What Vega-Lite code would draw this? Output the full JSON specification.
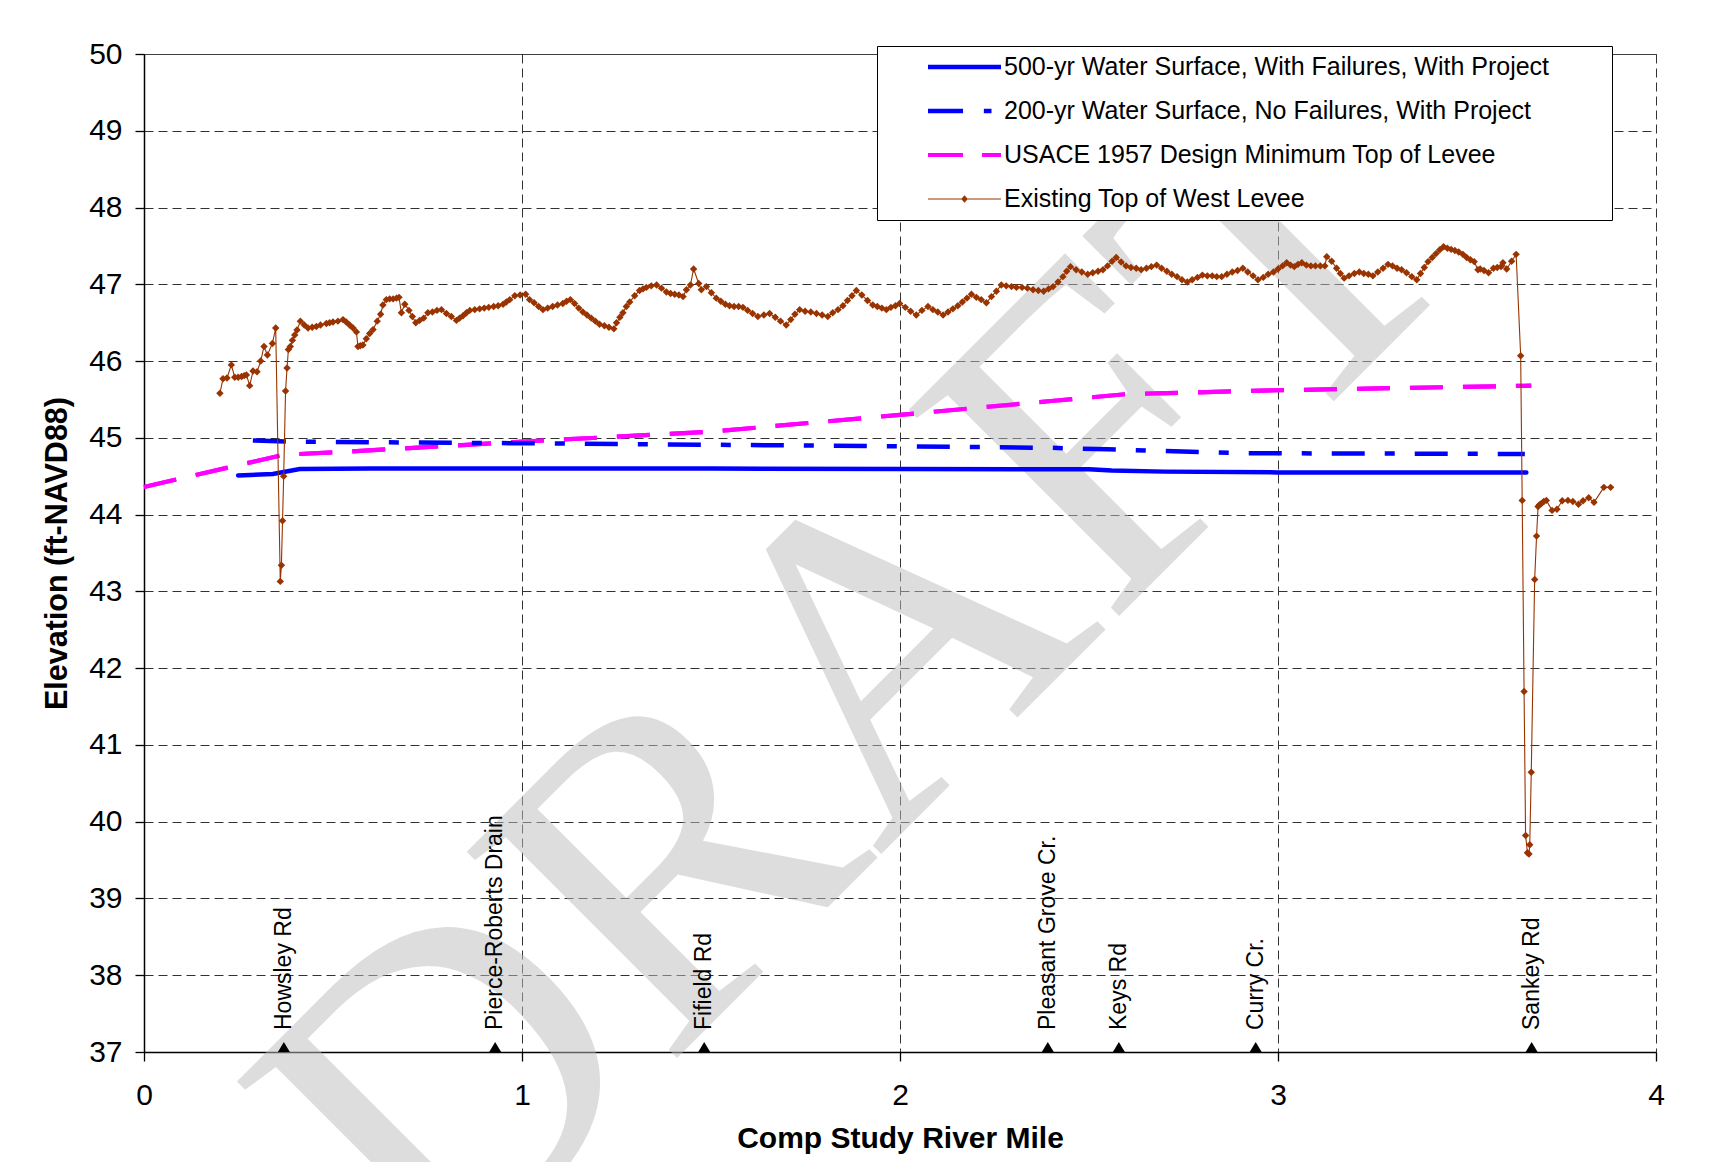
{
  "$schema": "https://vega.github.io/schema/vega-lite/v6.json",
  "width": 1512,
  "height": 998,
  "autosize": "none",
  "padding": {"left": 144, "top": 54, "right": 55, "bottom": 110},
  "background": "white",
  "config": {
    "view": {"stroke": null},
    "font": "Liberation Sans",
    "axis": {"labelFont": "Liberation Sans", "titleFont": "Liberation Sans", "labelColor": "black", "titleColor": "black"}
  },
  "datasets": {
    "watermark": [{"label": "DRAFT", "mile": 1.9, "elev": 41.82}],
    "usace": [
      {"mile": 0, "elev": 44.36}, {"mile": 0.37, "elev": 44.78}, {"mile": 0.5, "elev": 44.81}, {"mile": 1.0, "elev": 44.95},
      {"mile": 1.5, "elev": 45.08}, {"mile": 2.0, "elev": 45.30}, {"mile": 2.4, "elev": 45.48}, {"mile": 2.6, "elev": 45.57},
      {"mile": 3.0, "elev": 45.62}, {"mile": 3.67, "elev": 45.68}
    ],
    "water200": [
      {"mile": 0.288, "elev": 44.965}, {"mile": 0.4, "elev": 44.95}, {"mile": 1.0, "elev": 44.93}, {"mile": 1.5, "elev": 44.91},
      {"mile": 2.0, "elev": 44.89}, {"mile": 2.4, "elev": 44.87}, {"mile": 2.55, "elev": 44.85}, {"mile": 2.9, "elev": 44.80},
      {"mile": 3.653, "elev": 44.79}
    ],
    "water500": [
      {"mile": 0.249, "elev": 44.51}, {"mile": 0.341, "elev": 44.53}, {"mile": 0.412, "elev": 44.595}, {"mile": 0.6, "elev": 44.60},
      {"mile": 1.0, "elev": 44.60}, {"mile": 1.5, "elev": 44.60}, {"mile": 2.0, "elev": 44.595}, {"mile": 2.5, "elev": 44.59},
      {"mile": 2.56, "elev": 44.575}, {"mile": 2.7, "elev": 44.56}, {"mile": 3.0, "elev": 44.55}, {"mile": 3.657, "elev": 44.55}
    ],
    "levee": [
      {"mile":0.2008,"elev":45.58},{"mile":0.209,"elev":45.77},{"mile":0.2196,"elev":45.78},{"mile":0.231,"elev":45.95},{"mile":0.240,"elev":45.79},{"mile":0.249,"elev":45.79},{"mile":0.258,"elev":45.80},{"mile":0.265,"elev":45.81},{"mile":0.271,"elev":45.82},{"mile":0.2796,"elev":45.68},{"mile":0.2884,"elev":45.87},{"mile":0.299,"elev":45.86},{"mile":0.3087,"elev":46.00},{"mile":0.3175,"elev":46.19},{"mile":0.3264,"elev":46.08},{"mile":0.3397,"elev":46.23},{"mile":0.3484,"elev":46.43},{"mile":0.3605,"elev":43.13},{"mile":0.3635,"elev":43.34},{"mile":0.3665,"elev":43.92},{"mile":0.3695,"elev":44.50},{"mile":0.3745,"elev":45.61},{"mile":0.3784,"elev":45.91},{"mile":0.382,"elev":46.15},{"mile":0.387,"elev":46.19},{"mile":0.3926,"elev":46.27},{"mile":0.3987,"elev":46.34},{"mile":0.4048,"elev":46.405},{"mile":0.4137,"elev":46.52},{"mile":0.424,"elev":46.47},{"mile":0.434,"elev":46.43},{"mile":0.445,"elev":46.44},{"mile":0.456,"elev":46.45},{"mile":0.467,"elev":46.47},{"mile":0.4825,"elev":46.49},{"mile":0.491,"elev":46.50},{"mile":0.5,"elev":46.51},{"mile":0.513,"elev":46.52},{"mile":0.5265,"elev":46.54},{"mile":0.535,"elev":46.51},{"mile":0.544,"elev":46.47},{"mile":0.553,"elev":46.43},{"mile":0.562,"elev":46.38},{"mile":0.566,"elev":46.19},{"mile":0.572,"elev":46.20},{"mile":0.579,"elev":46.21},{"mile":0.588,"elev":46.29},{"mile":0.597,"elev":46.36},{"mile":0.606,"elev":46.41},{"mile":0.617,"elev":46.52},{"mile":0.626,"elev":46.61},{"mile":0.632,"elev":46.73},{"mile":0.641,"elev":46.80},{"mile":0.650,"elev":46.81},{"mile":0.659,"elev":46.81},{"mile":0.668,"elev":46.82},{"mile":0.6746,"elev":46.83},{"mile":0.681,"elev":46.63},{"mile":0.69,"elev":46.74},{"mile":0.701,"elev":46.66},{"mile":0.710,"elev":46.58},{"mile":0.719,"elev":46.50},{"mile":0.729,"elev":46.53},{"mile":0.740,"elev":46.56},{"mile":0.751,"elev":46.63},{"mile":0.763,"elev":46.64},{"mile":0.775,"elev":46.66},{"mile":0.787,"elev":46.67},{"mile":0.800,"elev":46.62},{"mile":0.813,"elev":46.58},{"mile":0.8265,"elev":46.53},{"mile":0.835,"elev":46.56},{"mile":0.844,"elev":46.59},{"mile":0.853,"elev":46.63},{"mile":0.862,"elev":46.66},{"mile":0.875,"elev":46.67},{"mile":0.888,"elev":46.68},{"mile":0.900,"elev":46.69},{"mile":0.912,"elev":46.70},{"mile":0.925,"elev":46.71},{"mile":0.937,"elev":46.72},{"mile":0.950,"elev":46.74},{"mile":0.9585,"elev":46.77},{"mile":0.9675,"elev":46.80},{"mile":0.981,"elev":46.85},{"mile":0.995,"elev":46.86},{"mile":1.0097,"elev":46.87},{"mile":1.020,"elev":46.80},{"mile":1.032,"elev":46.76},{"mile":1.044,"elev":46.71},{"mile":1.0555,"elev":46.67},{"mile":1.068,"elev":46.69},{"mile":1.081,"elev":46.71},{"mile":1.094,"elev":46.73},{"mile":1.108,"elev":46.75},{"mile":1.118,"elev":46.78},{"mile":1.128,"elev":46.80},{"mile":1.139,"elev":46.75},{"mile":1.150,"elev":46.69},{"mile":1.161,"elev":46.64},{"mile":1.172,"elev":46.60},{"mile":1.183,"elev":46.56},{"mile":1.194,"elev":46.52},{"mile":1.205,"elev":46.48},{"mile":1.218,"elev":46.46},{"mile":1.230,"elev":46.44},{"mile":1.243,"elev":46.42},{"mile":1.250,"elev":46.50},{"mile":1.259,"elev":46.57},{"mile":1.267,"elev":46.63},{"mile":1.276,"elev":46.71},{"mile":1.285,"elev":46.77},{"mile":1.298,"elev":46.85},{"mile":1.311,"elev":46.92},{"mile":1.320,"elev":46.94},{"mile":1.329,"elev":46.96},{"mile":1.342,"elev":46.98},{"mile":1.356,"elev":46.99},{"mile":1.369,"elev":46.95},{"mile":1.382,"elev":46.90},{"mile":1.393,"elev":46.88},{"mile":1.404,"elev":46.87},{"mile":1.415,"elev":46.86},{"mile":1.426,"elev":46.84},{"mile":1.435,"elev":46.93},{"mile":1.4455,"elev":46.99},{"mile":1.454,"elev":47.20},{"mile":1.4675,"elev":47.01},{"mile":1.4745,"elev":46.93},{"mile":1.488,"elev":46.97},{"mile":1.501,"elev":46.89},{"mile":1.514,"elev":46.82},{"mile":1.526,"elev":46.78},{"mile":1.538,"elev":46.74},{"mile":1.549,"elev":46.72},{"mile":1.561,"elev":46.71},{"mile":1.573,"elev":46.71},{"mile":1.5845,"elev":46.70},{"mile":1.597,"elev":46.66},{"mile":1.610,"elev":46.62},{"mile":1.624,"elev":46.58},{"mile":1.640,"elev":46.60},{"mile":1.655,"elev":46.62},{"mile":1.670,"elev":46.57},{"mile":1.684,"elev":46.52},{"mile":1.699,"elev":46.47},{"mile":1.711,"elev":46.54},{"mile":1.722,"elev":46.61},{"mile":1.7345,"elev":46.67},{"mile":1.749,"elev":46.65},{"mile":1.764,"elev":46.64},{"mile":1.779,"elev":46.62},{"mile":1.794,"elev":46.60},{"mile":1.809,"elev":46.58},{"mile":1.822,"elev":46.63},{"mile":1.836,"elev":46.67},{"mile":1.849,"elev":46.72},{"mile":1.861,"elev":46.79},{"mile":1.873,"elev":46.85},{"mile":1.8845,"elev":46.92},{"mile":1.899,"elev":46.86},{"mile":1.914,"elev":46.79},{"mile":1.928,"elev":46.73},{"mile":1.940,"elev":46.71},{"mile":1.952,"elev":46.69},{"mile":1.964,"elev":46.67},{"mile":1.976,"elev":46.70},{"mile":1.988,"elev":46.72},{"mile":1.999,"elev":46.75},{"mile":2.014,"elev":46.70},{"mile":2.028,"elev":46.65},{"mile":2.043,"elev":46.60},{"mile":2.058,"elev":46.66},{"mile":2.074,"elev":46.71},{"mile":2.087,"elev":46.67},{"mile":2.100,"elev":46.64},{"mile":2.114,"elev":46.60},{"mile":2.127,"elev":46.64},{"mile":2.140,"elev":46.68},{"mile":2.153,"elev":46.72},{"mile":2.165,"elev":46.77},{"mile":2.177,"elev":46.82},{"mile":2.189,"elev":46.87},{"mile":2.202,"elev":46.83},{"mile":2.215,"elev":46.80},{"mile":2.2285,"elev":46.76},{"mile":2.242,"elev":46.84},{"mile":2.255,"elev":46.91},{"mile":2.268,"elev":46.99},{"mile":2.281,"elev":46.98},{"mile":2.295,"elev":46.97},{"mile":2.308,"elev":46.96},{"mile":2.323,"elev":46.96},{"mile":2.337,"elev":46.95},{"mile":2.352,"elev":46.93},{"mile":2.366,"elev":46.92},{"mile":2.380,"elev":46.91},{"mile":2.393,"elev":46.94},{"mile":2.405,"elev":46.97},{"mile":2.418,"elev":47.03},{"mile":2.431,"elev":47.10},{"mile":2.441,"elev":47.17},{"mile":2.451,"elev":47.23},{"mile":2.466,"elev":47.19},{"mile":2.481,"elev":47.16},{"mile":2.4966,"elev":47.13},{"mile":2.510,"elev":47.15},{"mile":2.524,"elev":47.17},{"mile":2.537,"elev":47.19},{"mile":2.549,"elev":47.24},{"mile":2.561,"elev":47.30},{"mile":2.572,"elev":47.35},{"mile":2.585,"elev":47.29},{"mile":2.598,"elev":47.24},{"mile":2.611,"elev":47.22},{"mile":2.625,"elev":47.21},{"mile":2.638,"elev":47.19},{"mile":2.652,"elev":47.21},{"mile":2.665,"elev":47.23},{"mile":2.679,"elev":47.25},{"mile":2.692,"elev":47.21},{"mile":2.706,"elev":47.17},{"mile":2.719,"elev":47.13},{"mile":2.733,"elev":47.10},{"mile":2.746,"elev":47.06},{"mile":2.760,"elev":47.03},{"mile":2.773,"elev":47.06},{"mile":2.787,"elev":47.09},{"mile":2.800,"elev":47.12},{"mile":2.813,"elev":47.11},{"mile":2.826,"elev":47.11},{"mile":2.838,"elev":47.10},{"mile":2.851,"elev":47.10},{"mile":2.865,"elev":47.13},{"mile":2.879,"elev":47.16},{"mile":2.893,"elev":47.18},{"mile":2.907,"elev":47.21},{"mile":2.920,"elev":47.16},{"mile":2.934,"elev":47.11},{"mile":2.947,"elev":47.06},{"mile":2.961,"elev":47.09},{"mile":2.974,"elev":47.13},{"mile":2.988,"elev":47.16},{"mile":3.000,"elev":47.20},{"mile":3.012,"elev":47.24},{"mile":3.023,"elev":47.28},{"mile":3.033,"elev":47.25},{"mile":3.043,"elev":47.23},{"mile":3.053,"elev":47.26},{"mile":3.063,"elev":47.28},{"mile":3.075,"elev":47.25},{"mile":3.087,"elev":47.24},{"mile":3.099,"elev":47.24},{"mile":3.112,"elev":47.24},{"mile":3.124,"elev":47.24},{"mile":3.129,"elev":47.36},{"mile":3.142,"elev":47.30},{"mile":3.155,"elev":47.21},{"mile":3.165,"elev":47.14},{"mile":3.175,"elev":47.08},{"mile":3.188,"elev":47.11},{"mile":3.202,"elev":47.14},{"mile":3.215,"elev":47.16},{"mile":3.227,"elev":47.14},{"mile":3.239,"elev":47.13},{"mile":3.251,"elev":47.11},{"mile":3.264,"elev":47.16},{"mile":3.278,"elev":47.21},{"mile":3.291,"elev":47.26},{"mile":3.303,"elev":47.24},{"mile":3.315,"elev":47.21},{"mile":3.327,"elev":47.19},{"mile":3.340,"elev":47.15},{"mile":3.354,"elev":47.10},{"mile":3.367,"elev":47.06},{"mile":3.377,"elev":47.14},{"mile":3.387,"elev":47.22},{"mile":3.397,"elev":47.295},{"mile":3.408,"elev":47.35},{"mile":3.418,"elev":47.40},{"mile":3.428,"elev":47.45},{"mile":3.438,"elev":47.49},{"mile":3.448,"elev":47.47},{"mile":3.458,"elev":47.455},{"mile":3.468,"elev":47.44},{"mile":3.478,"elev":47.42},{"mile":3.489,"elev":47.39},{"mile":3.499,"elev":47.35},{"mile":3.509,"elev":47.32},{"mile":3.519,"elev":47.295},{"mile":3.529,"elev":47.19},{"mile":3.535,"elev":47.20},{"mile":3.545,"elev":47.18},{"mile":3.557,"elev":47.15},{"mile":3.570,"elev":47.21},{"mile":3.580,"elev":47.22},{"mile":3.590,"elev":47.23},{"mile":3.595,"elev":47.28},{"mile":3.605,"elev":47.20},{"mile":3.618,"elev":47.30},{"mile":3.630,"elev":47.39},{"mile":3.642,"elev":46.07},{"mile":3.646,"elev":44.185},{"mile":3.651,"elev":41.695},{"mile":3.655,"elev":39.82},{"mile":3.660,"elev":39.595},{"mile":3.664,"elev":39.58},{"mile":3.666,"elev":39.70},{"mile":3.670,"elev":40.645},{"mile":3.679,"elev":43.155},{"mile":3.684,"elev":43.72},{"mile":3.688,"elev":44.105},{"mile":3.692,"elev":44.13},{"mile":3.697,"elev":44.145},{"mile":3.703,"elev":44.17},{"mile":3.710,"elev":44.185},{"mile":3.725,"elev":44.055},{"mile":3.738,"elev":44.07},{"mile":3.752,"elev":44.18},{"mile":3.767,"elev":44.185},{"mile":3.780,"elev":44.17},{"mile":3.795,"elev":44.135},{"mile":3.807,"elev":44.18},{"mile":3.822,"elev":44.22},{"mile":3.836,"elev":44.16},{"mile":3.862,"elev":44.355},{"mile":3.880,"elev":44.355}
    ],
    "landmarks": [
      {"name": "Howsley Rd", "mile": 0.370},
      {"name": "Pierce-Roberts Drain", "mile": 0.929},
      {"name": "Fifield Rd", "mile": 1.482},
      {"name": "Pleasant Grove Cr.", "mile": 2.391},
      {"name": "Keys Rd", "mile": 2.579},
      {"name": "Curry Cr.", "mile": 2.941},
      {"name": "Sankey Rd", "mile": 3.671}
    ],
    "keys": [
      {"series": "500-yr Water Surface, With Failures, With Project"},
      {"series": "200-yr Water Surface, No Failures, With Project"},
      {"series": "USACE 1957 Design Minimum Top of Levee"},
      {"series": "Existing Top of West Levee"}
    ]
  },
  "layer": [
    {
      "data": {"name": "usace"},
      "mark": {"type": "line", "color": "#ff00ff", "strokeWidth": 4.2, "strokeDash": [33, 20], "strokeCap": "butt"},
      "encoding": {
        "x": {
          "field": "mile", "type": "quantitative",
          "scale": {"domain": [0, 4], "nice": false, "zero": false},
          "axis": {
            "values": [0, 0.5, 1, 1.5, 2, 2.5, 3, 3.5, 4],
            "format": "d",
            "labelExpr": "datum.value % 1 === 0 ? datum.label : ''",
            "labelFlush": false, "labelOverlap": false,
            "labelFontSize": 30, "labelPadding": 19,
            "grid": true, "gridDash": [9, 5], "gridColor": "#333333", "gridWidth": 1,
            "tickOpacity": {"condition": {"test": "datum.value % 1 !== 0", "value": 0}, "value": 1},
            "tickSize": 9, "tickColor": "black", "tickWidth": 1.3,
            "domainColor": "black", "domainWidth": 1.5,
            "title": "Comp Study River Mile", "titleFontSize": 30, "titleFontWeight": "bold",
            "titleY": 95, "titleBaseline": "alphabetic"
          }
        },
        "y": {
          "field": "elev", "type": "quantitative",
          "scale": {"domain": [37, 50], "nice": false, "zero": false},
          "axis": {
            "values": [37, 38, 39, 40, 41, 42, 43, 44, 45, 46, 47, 48, 49, 50],
            "format": "d",
            "labelFlush": false, "labelOverlap": false,
            "labelFontSize": 30, "labelPadding": 13,
            "grid": true,
            "gridDash": {"condition": {"test": "datum.value === 50", "value": [1, 0]}, "value": [9, 5]},
            "gridColor": {"condition": {"test": "datum.value === 50", "value": "black"}, "value": "#333333"},
            "gridWidth": 1,
            "tickSize": 9, "tickColor": "black", "tickWidth": 1.3,
            "domainColor": "black", "domainWidth": 1.5,
            "title": "Elevation (ft-NAVD88)", "titleFontSize": 30.5, "titleFontWeight": "bold",
            "titleAngle": 270, "titleX": -78, "titleY": 499, "titleAlign": "center", "titleBaseline": "alphabetic"
          }
        }
      }
    },
    {
      "data": {"name": "watermark"},
      "mark": {"type": "text", "font": "Liberation Serif", "fontSize": 450, "angle": 315, "align": "center", "baseline": "middle", "color": "#bdbdbd", "opacity": 0.5},
      "encoding": {
        "x": {"field": "mile", "type": "quantitative", "scale": {"domain": [0, 4], "nice": false, "zero": false}},
        "y": {"field": "elev", "type": "quantitative", "scale": {"domain": [37, 50], "nice": false, "zero": false}},
        "text": {"field": "label"}
      }
    },
    {
      "data": {"name": "usace"},
      "mark": {"type": "line", "color": "#ff00ff", "strokeWidth": 4.2, "strokeDash": [33, 20], "strokeCap": "butt"},
      "encoding": {
        "x": {"field": "mile", "type": "quantitative", "scale": {"domain": [0, 4], "nice": false, "zero": false}},
        "y": {"field": "elev", "type": "quantitative", "scale": {"domain": [37, 50], "nice": false, "zero": false}}
      }
    },
    {
      "data": {"name": "water200"},
      "mark": {"type": "line", "color": "#0000ff", "strokeWidth": 4.5, "strokeDash": [33, 20, 10, 20], "strokeCap": "butt"},
      "encoding": {
        "x": {"field": "mile", "type": "quantitative", "scale": {"domain": [0, 4], "nice": false, "zero": false}},
        "y": {"field": "elev", "type": "quantitative", "scale": {"domain": [37, 50], "nice": false, "zero": false}}
      }
    },
    {
      "data": {"name": "water500"},
      "mark": {"type": "line", "color": "#0000ff", "strokeWidth": 4.5, "strokeCap": "round"},
      "encoding": {
        "x": {"field": "mile", "type": "quantitative", "scale": {"domain": [0, 4], "nice": false, "zero": false}},
        "y": {"field": "elev", "type": "quantitative", "scale": {"domain": [37, 50], "nice": false, "zero": false}}
      }
    },
    {
      "data": {"name": "levee"},
      "mark": {"type": "line", "color": "#993300", "strokeWidth": 1.1},
      "encoding": {
        "x": {"field": "mile", "type": "quantitative", "scale": {"domain": [0, 4], "nice": false, "zero": false}},
        "y": {"field": "elev", "type": "quantitative", "scale": {"domain": [37, 50], "nice": false, "zero": false}}
      }
    },
    {
      "data": {"name": "levee"},
      "mark": {"type": "point", "shape": "diamond", "size": 55, "filled": true, "color": "#993300", "opacity": 1, "strokeWidth": 0},
      "encoding": {
        "x": {"field": "mile", "type": "quantitative", "scale": {"domain": [0, 4], "nice": false, "zero": false}},
        "y": {"field": "elev", "type": "quantitative", "scale": {"domain": [37, 50], "nice": false, "zero": false}}
      }
    },
    {
      "data": {"name": "landmarks"},
      "mark": {"type": "point", "shape": "M0,-1L0.6,0L-0.6,0Z", "size": 400, "filled": true, "color": "black", "opacity": 1, "strokeWidth": 0},
      "encoding": {
        "x": {"field": "mile", "type": "quantitative", "scale": {"domain": [0, 4], "nice": false, "zero": false}},
        "y": {"datum": 37, "type": "quantitative", "scale": {"domain": [37, 50], "nice": false, "zero": false}}
      }
    },
    {
      "data": {"name": "landmarks"},
      "mark": {"type": "text", "angle": 270, "align": "left", "baseline": "middle", "dx": 22, "fontSize": 23, "font": "Liberation Sans", "color": "black"},
      "encoding": {
        "x": {"field": "mile", "type": "quantitative", "scale": {"domain": [0, 4], "nice": false, "zero": false}},
        "y": {"datum": 37, "type": "quantitative", "scale": {"domain": [37, 50], "nice": false, "zero": false}},
        "text": {"field": "name"}
      }
    },
    {
      "data": {"name": "keys"},
      "mark": {"type": "point", "filled": true, "opacity": 0},
      "encoding": {
        "color": {
          "field": "series", "type": "nominal",
          "scale": {
            "domain": ["500-yr Water Surface, With Failures, With Project", "200-yr Water Surface, No Failures, With Project", "USACE 1957 Design Minimum Top of Levee", "Existing Top of West Levee"],
            "range": ["#0000ff", "#0000ff", "#ff00ff", "#993300"]
          },
          "legend": {
            "title": null, "orient": "none", "legendX": 733, "legendY": -8, "direction": "vertical",
            "fillColor": "white", "strokeColor": "black", "padding": 8, "cornerRadius": 0,
            "symbolSize": 5329, "symbolStrokeWidth": 0, "symbolOpacity": 1, "symbolOffset": 43, "labelOffset": 3,
            "labelFontSize": 25, "labelFont": "Liberation Sans", "labelColor": "black", "labelLimit": 2000,
            "rowPadding": 18, "clipHeight": 26,
            "labelExpr": "datum.label + '\u2800\u2800\u2800'"
          }
        },
        "shape": {
          "field": "series", "type": "nominal",
          "scale": {
            "domain": ["500-yr Water Surface, With Failures, With Project", "200-yr Water Surface, No Failures, With Project", "USACE 1957 Design Minimum Top of Levee", "Existing Top of West Levee"],
            "range": [
              "M-1,-0.06H1V0.06H-1Z",
              "M-1,-0.06H-0.04V0.06H-1Z M0.53,-0.06H0.74V0.06H0.53Z",
              "M-1,-0.055H-0.04V0.055H-1Z M0.48,-0.055H1V0.055H0.48Z",
              "M-1,-0.014H1V0.014H-1Z M0,-0.1L0.09,0L0,0.1L-0.09,0Z"
            ]
          },
          "legend": {
            "title": null, "orient": "none", "legendX": 733, "legendY": -8, "direction": "vertical",
            "fillColor": "white", "strokeColor": "black", "padding": 8, "cornerRadius": 0,
            "symbolSize": 5329, "symbolStrokeWidth": 0, "symbolOpacity": 1, "symbolOffset": 43, "labelOffset": 3,
            "labelFontSize": 25, "labelFont": "Liberation Sans", "labelColor": "black", "labelLimit": 2000,
            "rowPadding": 18, "clipHeight": 26,
            "labelExpr": "datum.label + '\u2800\u2800\u2800'"
          }
        }
      }
    }
  ]
}
